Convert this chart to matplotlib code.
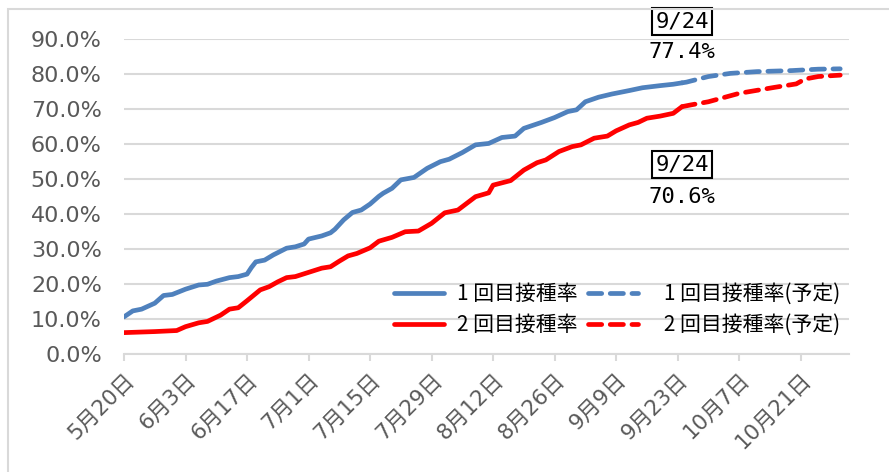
import pandas as pd
import matplotlib.pyplot as plt
from matplotlib.patches import Rectangle

plt.rcParams['font.family'] = ['Noto Sans CJK JP', 'DejaVu Sans']

start = pd.Timestamp("2021-05-20")

# days since 5/20 and rate (%)
days1 = [0, 2, 4, 7, 9, 11, 14, 17, 19, 21, 24, 26, 28, 29, 30, 32, 34, 37, 39, 41,
         42, 45, 47, 48, 50, 52, 54, 56, 58, 59, 61, 63, 66, 69, 72, 74, 77, 80, 83,
         86, 89, 91, 95, 98, 101, 103, 105, 108, 111, 115, 118, 122, 125, 127]
rate1 = [10.6, 12.3, 12.8, 14.5, 16.7, 17.0, 18.5, 19.7, 19.9, 20.8, 21.8, 22.1, 22.8,
         24.7, 26.3, 26.8, 28.3, 30.2, 30.6, 31.4, 32.8, 33.7, 34.6, 35.6, 38.3, 40.4,
         41.1, 42.8, 45.0, 45.9, 47.3, 49.7, 50.4, 53.0, 54.9, 55.6, 57.5, 59.7, 60.1,
         61.8, 62.2, 64.4, 66.1, 67.5, 69.2, 69.7, 72.0, 73.3, 74.2, 75.2, 76.0, 76.6,
         77.0, 77.4]

days2 = [0, 7, 12, 14, 17, 19, 22, 24, 26, 28, 31, 33, 35, 37, 39, 42, 45, 47, 49, 51,
         53, 56, 58, 61, 64, 67, 70, 73, 76, 80, 83, 84, 88, 91, 94, 96, 99, 102, 104,
         107, 110, 112, 115, 117, 119, 122, 125, 127]
rate2 = [6.1, 6.4, 6.7, 7.8, 8.9, 9.3, 11.1, 12.8, 13.2, 15.2, 18.3, 19.2, 20.6, 21.8,
         22.1, 23.3, 24.5, 24.9, 26.5, 28.0, 28.7, 30.3, 32.2, 33.3, 34.9, 35.1, 37.3,
         40.3, 41.1, 44.9, 46.0, 48.2, 49.5, 52.5, 54.6, 55.4, 57.8, 59.2, 59.7, 61.6,
         62.2, 63.7, 65.4, 66.1, 67.3, 67.9, 68.7, 70.6]

# planned
days1p = [127, 128, 133, 138, 144, 152, 158, 163]
rate1p = [77.4, 77.6, 79.2, 80.1, 80.6, 80.9, 81.3, 81.4]
days2p = [127, 129, 133, 140, 148, 153, 155, 158, 163]
rate2p = [70.6, 71.1, 72.0, 74.4, 76.1, 77.1, 78.5, 79.2, 79.6]

tick_dates = ["2021-05-20", "2021-06-03", "2021-06-17", "2021-07-01", "2021-07-15",
              "2021-07-29", "2021-08-12", "2021-08-26", "2021-09-09", "2021-09-23",
              "2021-10-07", "2021-10-21"]
tick_labels = ["5月20日", "6月3日", "6月17日", "7月1日", "7月15日", "7月29日",
               "8月12日", "8月26日", "9月9日", "9月23日", "10月7日", "10月21日"]

labels = ["1 回目接種率", "2 回目接種率", "   1 回目接種率(予定)", "   2 回目接種率(予定)"]


def to_dates(d):
    return start + pd.to_timedelta(d, unit="D")


blue = "#4f81bd"
red = "#ff0000"
grid_c = "#d9d9d9"
text_c = "#595959"
tick_font = ["DejaVu Sans", "Noto Sans CJK JP"]

fig = plt.figure(figsize=(8.89, 4.72), dpi=100)
ax = fig.add_axes([124 / 889, 118 / 472, 725 / 889, 315.3 / 472])

l1, = ax.plot(to_dates(days1), [v / 100 for v in rate1], color=blue, lw=3.4,
              solid_capstyle="round", solid_joinstyle="round")
l2, = ax.plot(to_dates(days2), [v / 100 for v in rate2], color=red, lw=3.4,
              solid_capstyle="round", solid_joinstyle="round")
l3, = ax.plot(to_dates(days1p), [v / 100 for v in rate1p], color=blue, lw=3.4,
              ls=(0, (2.8, 1.8)), dash_capstyle="round")
l4, = ax.plot(to_dates(days2p), [v / 100 for v in rate2p], color=red, lw=3.4,
              ls=(0, (2.8, 1.8)), dash_capstyle="round")

ax.set_xlim(start, to_dates(165))
ax.set_ylim(0, 0.9)
ax.set_yticks([i / 10 for i in range(10)])
ax.set_yticklabels([f"{i * 10:.1f}%" for i in range(10)], family=tick_font)
ax.set_xticks(pd.to_datetime(tick_dates))
ax.set_xticklabels(tick_labels, rotation=45, ha="right", rotation_mode="anchor",
                   family=tick_font)

ax.grid(axis="y", color=grid_c, lw=1.5)
ax.set_axisbelow(True)
for s in ["top", "right", "left"]:
    ax.spines[s].set_visible(False)
ax.spines["bottom"].set_color(grid_c)
ax.spines["bottom"].set_linewidth(1.5)
ax.tick_params(axis="y", length=0, pad=16, labelsize=16, labelcolor=text_c)
ax.tick_params(axis="x", length=5, width=1.5, color=grid_c, pad=6, labelsize=15.5,
               labelcolor=text_c)

ax.legend([l1, l2, l3, l4], labels, ncol=2, loc="lower right",
          bbox_to_anchor=(1.0, 0.03), frameon=False, fontsize=15,
          handlelength=2.4, handletextpad=0.6, columnspacing=0.5,
          labelspacing=0.45, borderaxespad=0)

box = dict(boxstyle="square,pad=0.15", fc="white", ec="black", lw=1.5)
d924 = to_dates(127)
ax.text(d924, 0.949, "9/24", ha="center", va="center", fontsize=16,
        family="DejaVu Sans Mono", bbox=box, clip_on=False)
ax.text(d924, 0.862, "77.4%", ha="center", va="center", fontsize=16,
        family="DejaVu Sans Mono")
ax.text(d924, 0.54, "9/24", ha="center", va="center", fontsize=16,
        family="DejaVu Sans Mono", bbox=box)
ax.text(d924, 0.448, "70.6%", ha="center", va="center", fontsize=16,
        family="DejaVu Sans Mono")

fig.add_artist(Rectangle((7.5 / 889, -0.1), 2, 1.1 - 9.5 / 472, transform=fig.transFigure,
                         fill=False, ec=grid_c, lw=1.5))

plt.savefig("out.png", dpi=100)
